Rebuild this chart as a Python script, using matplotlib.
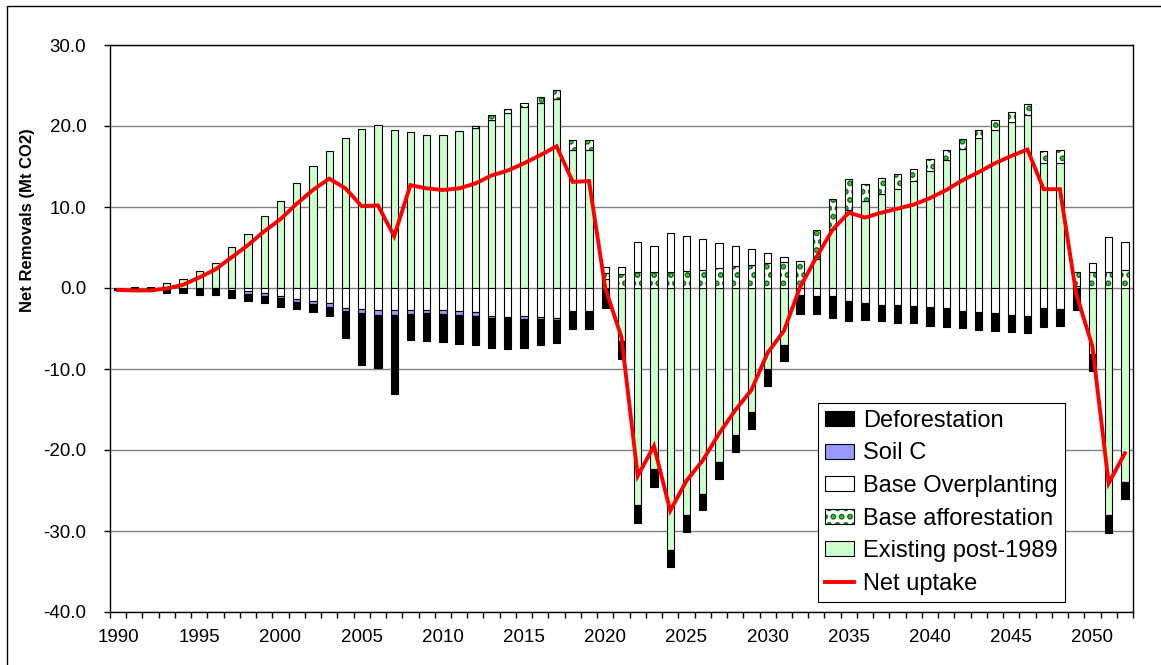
import matplotlib
matplotlib.use('Agg')
import matplotlib.pyplot as plt
import numpy as np
from matplotlib.patches import Patch, Rectangle
from matplotlib.lines import Line2D

plt.rcParams['font.family'] = ['Liberation Sans', 'DejaVu Sans']
plt.rcParams['hatch.linewidth'] = 3.0

years = np.arange(1990, 2053)

existing = [0.0, 0.1, 0.1, 0.66, 1.07, 2.15, 3.1, 5.04, 6.7, 8.88,
            10.8, 12.98, 15.1, 16.9, 18.55, 19.63, 20.1, 19.5, 19.2, 18.84,
            18.84, 19.4, 19.8, 20.8, 21.65, 22.3, 22.9, 23.3, 17.0, 17.0,
            1.1, -6.5, -26.8, -22.4, -32.3, -28.0, -25.4, -21.5, -18.1, -15.3,
            -10.0, -7.0, 0.0, 3.6, 7.3, 9.6, 10.7, 11.65, 12.27, 13.2,
            14.5, 15.8, 17.1, 18.5, 19.5, 20.45, 21.3, 15.4, 15.45, 0.3,
            -8.2, -28.0, -23.9]

afforestation = [0.0] * 22 + [
    0.2, 0.6, 0.45, 0.6, 0.65, 1.1, 1.26, 1.26,
    0.72, 1.74, 1.94, 2.02, 2.02, 2.15, 2.27, 2.44, 2.69, 2.9,
    3.06, 3.18, 3.3, 3.6, 3.7, 3.8, 2.1, 1.95, 1.78, 1.55,
    1.4, 1.2, 1.3, 1.0, 1.2, 1.25, 1.4, 1.5, 1.55, 1.7,
    2.0, 2.0, 2.2]

overplanting = [0.0] * 7 + [
    -0.2, -0.37, -0.58,
    -1.03, -1.36, -1.6, -1.9, -2.45, -2.6, -2.73, -2.73, -2.73, -2.73,
    -2.73, -2.9, -3.0, -3.4, -3.55, -3.5, -3.62, -3.76, -2.8, -2.8,
    0.82, 0.9, 3.8, 3.15, 4.78, 4.25, 3.8, 3.06, 2.48, 1.93,
    1.24, 0.62, -0.9, -0.95, -0.95, -1.57, -1.86, -2.07, -2.07, -2.27,
    -2.4, -2.5, -2.8, -3.0, -3.14, -3.3, -3.43, -2.5, -2.6, 0.0,
    1.06, 4.3, 3.54]

soil_c = [0.0] * 7 + [
    -0.17, -0.37, -0.41,
    -0.25, -0.38, -0.38, -0.46, -0.33, -0.5, -0.57, -0.57, -0.5, -0.4,
    -0.53, -0.4, -0.4, -0.3, -0.21, -0.34, -0.22, -0.21] + [0.0] * 35

deforestation = [-0.25, -0.35, -0.35, -0.66, -0.66, -0.83, -0.83, -0.87, -0.83, -0.87,
                 -1.08, -0.9, -0.95, -1.07, -3.45, -6.36, -6.6, -9.76, -3.2, -3.37,
                 -3.44, -3.56, -3.6, -3.66, -3.72, -3.56, -3.23, -2.77, -2.28, -2.28,
                 -2.48, -2.3, -2.2, -2.2, -2.1, -2.1, -2.0, -2.05, -2.15, -2.1,
                 -2.06, -2.0, -2.3, -2.25, -2.81, -2.56, -2.04, -2.06, -2.27, -1.99,
                 -2.27, -2.3, -2.16, -2.17, -2.23, -2.1, -2.17, -2.3, -2.07, -2.7,
                 -2.0, -2.3, -2.1]

net_uptake = [-0.25, -0.3, -0.3, -0.05, 0.4, 1.3, 2.3, 3.8, 5.3, 7.0,
              8.5, 10.4, 12.1, 13.5, 12.3, 10.1, 10.2, 6.4, 12.7, 12.3,
              12.1, 12.3, 12.9, 13.9, 14.5, 15.4, 16.4, 17.5, 13.1, 13.2,
              0.0, -6.1, -23.2, -19.5, -27.5, -23.8, -21.3, -18.0, -15.1, -12.6,
              -8.0, -5.3, 0.1, 3.8, 7.2, 9.3, 8.7, 9.3, 9.8, 10.3,
              11.1, 12.1, 13.3, 14.3, 15.4, 16.3, 17.1, 12.2, 12.2, -0.7,
              -7.2, -24.1, -20.4]

green = '#CCFFCC'
soil_blue = '#9999FF'
dot_green = '#008000'
bar_w = 0.45

fig = plt.figure(figsize=(11.61, 6.65), dpi=100)
ax = fig.add_axes([110 / 1161, 1 - 612 / 665, 1023 / 1161, 567 / 665])

pos_bottom = np.zeros(len(years))
neg_bottom = np.zeros(len(years))

# stack in Excel series order: existing, afforestation, overplanting, soil, deforestation
series = [(existing, 'existing'), (afforestation, 'afforestation'),
          (overplanting, 'overplanting'), (soil_c, 'soil'), (deforestation, 'defor')]
for vals, kind in series:
    v = np.array(vals, dtype=float)
    bottom = np.where(v >= 0, pos_bottom, neg_bottom)
    m = v != 0
    if kind == 'afforestation':
        ax.bar(years[m], v[m], bar_w, bottom=bottom[m], facecolor='white',
               edgecolor=dot_green, hatch='..', linewidth=0, zorder=2)
        ax.bar(years[m], v[m], bar_w, bottom=bottom[m], fill=False,
               edgecolor='black', linewidth=0.8, zorder=2)
    else:
        fc = {'existing': green, 'overplanting': 'white',
              'soil': soil_blue, 'defor': 'black'}[kind]
        ax.bar(years[m], v[m], bar_w, bottom=bottom[m], facecolor=fc,
               edgecolor='black', linewidth=0.8, zorder=2)
    pos_bottom += np.clip(v, 0, None)
    neg_bottom += np.clip(v, None, 0)

ax.plot(years, net_uptake, color='#FF0000', lw=2.8, zorder=3, solid_joinstyle='miter')

ax.set_xlim(1989.5, 2052.5)
ax.set_ylim(-40, 30)
ax.set_yticks(np.arange(-40, 31, 10))
ax.set_yticklabels(['%.1f' % t for t in np.arange(-40, 31, 10)])
ax.set_xticks(np.arange(1990, 2051, 5))
ax.set_xticks(np.arange(1989.5, 2053, 1), minor=True)
ax.tick_params(axis='x', which='major', length=0, pad=12, labelsize=13.5)
ax.tick_params(axis='x', which='minor', length=4, width=1, direction='out')
ax.tick_params(axis='y', length=4, width=1, direction='out', pad=13, labelsize=13.5)
ax.yaxis.grid(True, color='#808080', lw=1)
ax.set_axisbelow(True)
for s in ax.spines.values():
    s.set_linewidth(1)
    s.set_color('black')

ax.set_ylabel('Net Removals (Mt CO2)', fontsize=12, fontweight='bold')
ax.yaxis.set_label_coords(-0.0733, 0.692)

handles = [
    Patch(facecolor='black', edgecolor='black', linewidth=0.8),
    Patch(facecolor=soil_blue, edgecolor='black', linewidth=0.8),
    Patch(facecolor='white', edgecolor='black', linewidth=0.8),
    (Patch(facecolor='white', edgecolor=dot_green, hatch='..', linewidth=0),
     Patch(fill=False, edgecolor='black', linewidth=0.8)),
    Patch(facecolor=green, edgecolor='black', linewidth=0.8),
    Line2D([], [], color='#FF0000', lw=2.8),
]
labels = ['Deforestation', 'Soil C', 'Base Overplanting', 'Base afforestation',
          'Existing post-1989', 'Net uptake']
leg = ax.legend(handles, labels, loc='lower right', bbox_to_anchor=(0.9335, 0.0176),
                fontsize=17, frameon=True, fancybox=False, edgecolor='black',
                framealpha=1, handlelength=1.2, handleheight=0.6,
                labelspacing=0.45, borderpad=0.3, handletextpad=0.4,
                borderaxespad=0)
leg.get_frame().set_linewidth(0.8)

fig.add_artist(Rectangle((7 / 1161, -0.1), 1.2, 1 - 6 / 665 + 0.1, fill=False,
                         edgecolor='black', lw=1, transform=fig.transFigure))

fig.savefig('out.png', dpi=100)
